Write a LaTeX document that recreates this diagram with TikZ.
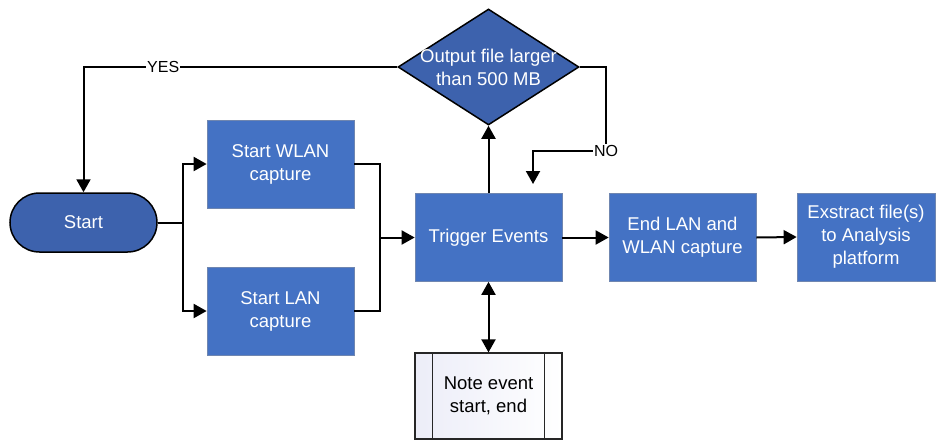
\documentclass[tikz,border=0pt]{standalone}
\usepackage{fontspec}
\setmainfont{Liberation Sans}
\usetikzlibrary{shapes.geometric,arrows.meta,calc}
\definecolor{boxblue}{HTML}{4472C4}
\definecolor{darkblue}{HTML}{3D62AD}
\definecolor{boxedge}{HTML}{6F86B0}
\definecolor{notefill}{HTML}{ECEDF8}
\tikzset{
  x=1pt, y=-1pt,
  every node/.style={font=\fontsize{18.5}{23}\selectfont},
  process/.style={rectangle, draw=boxedge, line width=0.7pt, fill=boxblue,
    text=white, align=center, minimum width=147pt, minimum height=88pt, inner sep=2pt},
  terminal/.style={rectangle, rounded corners=29.5pt, draw=black, line width=1.5pt,
    fill=darkblue, text=white, minimum width=147pt, minimum height=59pt},
  decision/.style={diamond, draw=black, line width=1.5pt, fill=darkblue,
    minimum width=181pt, minimum height=116pt, inner sep=0pt},
  predef/.style={rectangle, draw=black!85, line width=1.2pt,
    left color=notefill, right color=white, align=center,
    minimum width=147pt, minimum height=86pt},
  flow/.style={draw=black, line width=2pt},
  arr/.style={flow, -{Triangle[length=13pt,width=14pt]}},
  darr/.style={flow, {Triangle[length=13pt,width=14pt]}-{Triangle[length=13pt,width=14pt]}},
  tag/.style={fill=white, inner sep=1pt, text=black, font=\fontsize{16}{18}\selectfont}
}
\begin{document}
\begin{tikzpicture}
\useasboundingbox (0,0) rectangle (936,441);

% shapes
\node[decision] (dec) at (488.5,67) {};
\node[text=white, align=center] (dectext) at (dec.center) {Output file larger\\than 500 MB};
\node[terminal] (start) at (83.5,222.5) {Start};
\node[process] (wlan) at (280.5,164) {Start WLAN\\capture};
\node[process] (lan) at (280.5,311) {Start LAN\\capture};
\node[process] (trig) at (488.5,237.5) {Trigger Events};
\node[process] (endcap) at (682.5,237.5) {End LAN and\\WLAN capture};
\node[process, minimum width=138pt] (extr) at (866,237) {Exstract file(s)\\to Analysis\\platform};
\node[predef] (note) at (488.5,396) {Note event\\start, end};
\draw[black!85, line width=1.2pt] ([xshift=18pt]note.north west) -- ([xshift=18pt]note.south west);
\draw[black!85, line width=1.2pt] ([xshift=-18pt]note.north east) -- ([xshift=-18pt]note.south east);

% junction points
\coordinate (split) at (183,222.5);
\coordinate (join) at (380,237.5);
\coordinate (noend) at (533,184);
\node[tag] (no) at (606,151) {NO};

% connectors
\draw[arr] (dec.west) -| node[tag, pos=0.373] (yes) {YES} (start.north);
\draw[flow] (start.east) -- (split);
\draw[arr] (split) |- (wlan.west);
\draw[arr] (split) |- (lan.west);
\draw[flow] (wlan.east) -| (join);
\draw[flow] (lan.east) -| (join);
\draw[arr] (join) -- (trig.west);
\draw[arr] (trig.north) -- (dec.south);
\draw[flow] (dec.east) -| (no.north);
\draw[arr] (no.west) -| (noend);
\draw[arr] (trig.east) -- (endcap.west);
\draw[arr] (endcap.east) -- (extr.west);
\draw[darr] (trig.south) -- (note.north);
\end{tikzpicture}
\end{document}
